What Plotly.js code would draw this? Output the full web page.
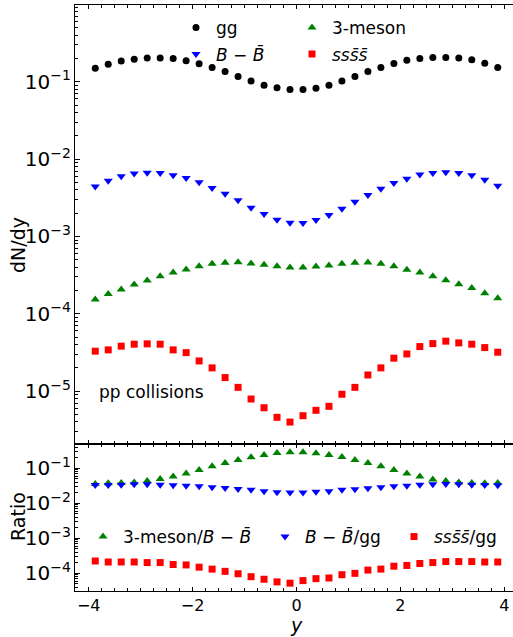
<!DOCTYPE html>
<html>
<head>
<meta charset="utf-8">
<script src="https://cdn.plot.ly/plotly-3.0.1.min.js"></script>
<style>
html, body { margin: 0; padding: 0; overflow: hidden; background: #fff; width: 513px; height: 637px; }
#chart { width: 520px; height: 637px; }
</style>
</head>
<body>
<div id="chart"></div>
<script>
// rapidity bin centres
const rapidity = [-3.875,-3.625,-3.375,-3.125,-2.875,-2.625,-2.375,-2.125,-1.875,-1.625,-1.375,-1.125,-0.875,-0.625,-0.375,-0.125,
                  0.125,0.375,0.625,0.875,1.125,1.375,1.625,1.875,2.125,2.375,2.625,2.875,3.125,3.375,3.625,3.875];

// dN/dy (top panel)
const ggYield = [0.149,0.168,0.185,0.196,0.202,0.202,0.199,0.187,0.171,0.153,0.136,0.117,0.102,0.0903,0.0836,0.0795,
                 0.0795,0.0826,0.0903,0.102,0.117,0.136,0.153,0.172,0.189,0.200,0.205,0.206,0.202,0.193,0.174,0.153];
const bbYield = [4.44e-3,5.26e-3,5.98e-3,6.49e-3,6.68e-3,6.63e-3,6.17e-3,5.71e-3,5.01e-3,4.24e-3,3.57e-3,2.93e-3,2.35e-3,1.95e-3,1.65e-3,1.50e-3,
                 1.49e-3,1.63e-3,1.89e-3,2.28e-3,2.81e-3,3.44e-3,4.15e-3,4.92e-3,5.59e-3,6.30e-3,6.63e-3,6.75e-3,6.63e-3,6.17e-3,5.42e-3,4.54e-3];
const mesonYield = [1.53e-4,1.81e-4,2.06e-4,2.39e-4,2.69e-4,3.06e-4,3.42e-4,3.74e-4,4.12e-4,4.43e-4,4.56e-4,4.65e-4,4.47e-4,4.30e-4,4.12e-4,3.97e-4,
                    3.97e-4,4.09e-4,4.21e-4,4.43e-4,4.56e-4,4.61e-4,4.43e-4,4.12e-4,3.70e-4,3.42e-4,3.06e-4,2.72e-4,2.41e-4,2.16e-4,1.84e-4,1.59e-4];
const ssssYield = [3.29e-5,3.42e-5,3.82e-5,4.05e-5,4.09e-5,4.05e-5,3.42e-5,3.15e-5,2.46e-5,2.00e-5,1.50e-5,1.12e-5,7.92e-6,6.11e-6,4.59e-6,3.99e-6,
                   4.82e-6,5.66e-6,6.37e-6,9.12e-6,1.12e-5,1.62e-5,2.00e-5,2.67e-5,3.03e-5,3.77e-5,4.12e-5,4.43e-5,4.21e-5,4.05e-5,3.66e-5,3.19e-5];

// Ratios (bottom panel)
const ratioMesonBB = [0.0356,0.0371,0.0380,0.0395,0.0432,0.0492,0.0582,0.0706,0.0896,0.114,0.141,0.171,0.207,0.240,0.274,0.286,
                      0.286,0.268,0.240,0.211,0.171,0.141,0.114,0.0896,0.0706,0.0582,0.0480,0.0432,0.0395,0.0380,0.0371,0.0380];
const ratioBBgg = [0.0334,0.0334,0.0340,0.0347,0.0347,0.0340,0.0326,0.0319,0.0305,0.0286,0.0275,0.0258,0.0242,0.0221,0.0207,0.0203,
                   0.0203,0.0213,0.0221,0.0242,0.0252,0.0268,0.0286,0.0305,0.0319,0.0340,0.0347,0.0356,0.0347,0.0340,0.0334,0.0326];
const ratioSSSSgg = [2.25e-4,2.11e-4,2.11e-4,2.11e-4,2.03e-4,2.03e-4,1.79e-4,1.74e-4,1.50e-4,1.32e-4,1.14e-4,9.75e-5,8.03e-5,6.79e-5,5.70e-5,5.25e-5,
                     6.21e-5,7.06e-5,7.38e-5,9.14e-5,1.0e-4,1.24e-4,1.32e-4,1.60e-4,1.68e-4,1.91e-4,2.03e-4,2.17e-4,2.17e-4,2.17e-4,2.11e-4,2.11e-4];

const xTicks = [-4,-2,0,2,4];
const BBAR = '<i>B</i> − <i>B\u0304</i>';
const SSSS = '<i>sss\u0304s\u0304</i>';

const FONT = 'DejaVu Sans, sans-serif';

function pts(y, name, symbol, color, size, yaxis, legend) {
  return {
    x: rapidity, y: y, name: name, type: 'scatter', mode: 'markers',
    xaxis: yaxis === 'y2' ? 'x2' : 'x', yaxis: yaxis, legend: legend,
    marker: {symbol: symbol, color: color, size: size, line: {width: 0}},
    cliponaxis: false
  };
}

const traces = [
  pts(ggYield, 'gg', 'circle', '#000000', 7, 'y2', 'legend'),
  pts(mesonYield, '3-meson', 'triangle-up', '#008000', 8, 'y2', 'legend'),
  pts(bbYield, BBAR, 'triangle-down', '#0000ff', 8, 'y2', 'legend2'),
  pts(ssssYield, SSSS, 'square', '#ff0000', 7, 'y2', 'legend2'),
  pts(ratioMesonBB, '3-meson/' + BBAR, 'triangle-up', '#008000', 8, 'y', 'legend3'),
  pts(ratioBBgg, BBAR + '/gg', 'triangle-down', '#0000ff', 8, 'y', 'legend4'),
  pts(ratioSSSSgg, SSSS + '/gg', 'square', '#ff0000', 7, 'y', 'legend5')
];

const axisCommon = {
  showline: true, linecolor: '#000', linewidth: 1, mirror: 'ticks',
  ticks: 'inside', tickcolor: '#000', showgrid: false, zeroline: false,
  tickfont: {family: FONT, size: 16, color: '#000'}
};

// plot area in pixels: x 75..518, y 5..591
function legendAt(xpx, ypx) {
  return {
    x: (xpx - 75) / 443, y: (591 - ypx) / 586, xref: 'paper', yref: 'paper',
    xanchor: 'left', yanchor: 'middle', orientation: 'h',
    bgcolor: 'rgba(0,0,0,0)', borderwidth: 0,
    font: {family: FONT, size: 17, color: '#000'}
  };
}

const leg1 = legendAt(176, 28); leg1.entrywidth = 71;
const leg2 = legendAt(176, 54.5); leg2.entrywidth = 71;

const layout = {
  width: 520, height: 637,
  margin: {l: 75, r: 2, t: 5, b: 46},
  paper_bgcolor: '#fff', plot_bgcolor: '#fff',
  font: {family: FONT, size: 17, color: '#000'},
  xaxis: Object.assign({}, axisCommon, {
    anchor: 'y', range: [-4.265, 4.265], tickvals: xTicks, ticklen: 4,
    minor: {ticks: 'inside', dtick: 0.25, ticklen: 3, tickcolor: '#000', showgrid: false}
  }),
  xaxis2: Object.assign({}, axisCommon, {
    anchor: 'y2', matches: 'x', range: [-4.265, 4.265], tickvals: xTicks, ticklen: 4, showticklabels: false,
    minor: {ticks: 'inside', dtick: 0.25, ticklen: 3, tickcolor: '#000', showgrid: false}
  }),
  yaxis: Object.assign({}, axisCommon, {
    type: 'log', domain: [0, 0.2503], range: [-4.504, -0.316], dtick: 1, ticklen: 5,
    exponentformat: 'power',
    minor: {ticks: 'inside', ticklen: 2.5, tickcolor: '#000', showgrid: false}
  }),
  yaxis2: Object.assign({}, axisCommon, {
    type: 'log', domain: [0.2503, 1], range: [-5.687, -0.008], dtick: 1, ticklen: 5,
    exponentformat: 'power',
    minor: {ticks: 'inside', ticklen: 2.5, tickcolor: '#000', showgrid: false}
  }),
  legend: leg1,
  legend2: leg2,
  legend3: legendAt(83, 537),
  legend4: legendAt(265, 537),
  legend5: legendAt(394, 537),
  annotations: [
    {text: 'pp collisions', xref: 'x2', yref: 'y2', x: -3.84, y: -5.005,
     xanchor: 'left', yanchor: 'middle', showarrow: false,
     font: {family: FONT, size: 17, color: '#000'}},
    {text: 'dN/dy', xref: 'paper', yref: 'paper', x: (18 - 75) / 443, y: (591 - 245) / 586,
     xanchor: 'center', yanchor: 'middle', textangle: -90, showarrow: false,
     font: {family: FONT, size: 19, color: '#000'}},
    {text: 'Ratio', xref: 'paper', yref: 'paper', x: (18 - 75) / 443, y: (591 - 517) / 586,
     xanchor: 'center', yanchor: 'middle', textangle: -90, showarrow: false,
     font: {family: FONT, size: 19, color: '#000'}},
    {text: '<i>y</i>', xref: 'x', yref: 'paper', x: 0, y: (591 - 625) / 586,
     xanchor: 'center', yanchor: 'middle', showarrow: false,
     font: {family: FONT, size: 19, color: '#000'}}
  ]
};

Plotly.newPlot('chart', traces, layout, {displayModeBar: false, staticPlot: true});
</script>
</body>
</html>
